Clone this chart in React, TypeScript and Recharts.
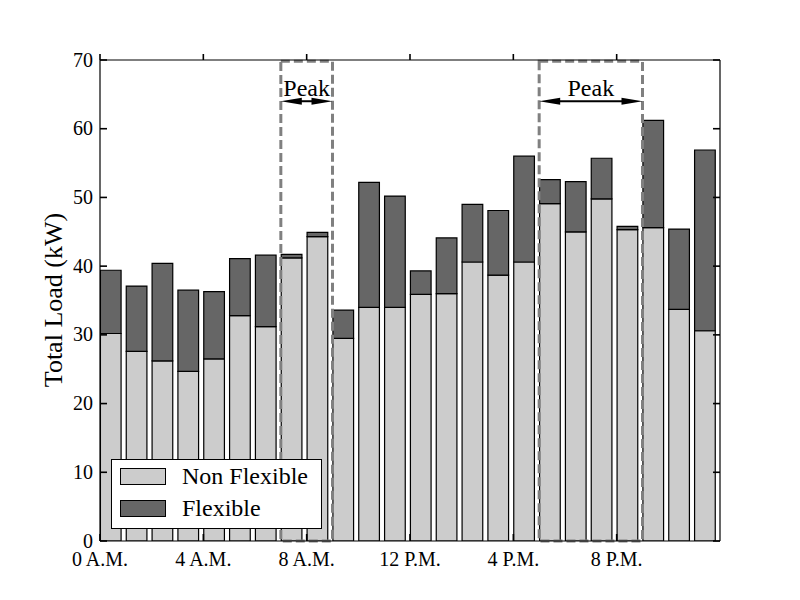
import { Bar, BarChart, Label, Legend, ReferenceArea, ReferenceLine, XAxis, YAxis } from "recharts"

const hours = [0, 1, 2, 3, 4, 5, 6, 7, 8, 9, 10, 11, 12, 13, 14, 15, 16, 17, 18, 19, 20, 21, 22, 23]
const nonFlexible = [30.2, 27.6, 26.2, 24.7, 26.5, 32.8, 31.2, 41.2, 44.3, 29.5, 34.0, 34.0, 35.9, 36.0, 40.6, 38.7, 40.6, 49.1, 45.0, 49.8, 45.3, 45.6, 33.7, 30.6]
const flexible = [9.2, 9.5, 14.2, 11.8, 9.8, 8.3, 10.4, 0.5, 0.6, 4.1, 18.2, 16.2, 3.4, 8.1, 8.4, 9.4, 15.4, 3.5, 7.3, 5.9, 0.5, 15.6, 11.7, 26.3]

const seriesNames = ["Non Flexible", "Flexible"]

const hourTicks = [0, 4, 8, 12, 16, 20]
const hourLabels = ["0 A.M.", "4 A.M.", "8 A.M.", "12 P.M.", "4 P.M.", "8 P.M."]
const loadTicks = [0, 10, 20, 30, 40, 50, 60, 70]

const peakStarts = [7, 17]
const peakEnds = [9, 21]
const peakArrowLevel = 64
const peakLabel = "Peak"

const data = hours.map((hour, i) => ({
  hour,
  nonFlexible: nonFlexible[i],
  flexible: flexible[i],
}))

const font = "'Liberation Serif', 'Times New Roman', serif"
const axisStyle = { stroke: "#000", strokeWidth: 1.2 }

// matplotlib style: ticks drawn inside the frame, labels outside
function BottomTick(props: any) {
  const { x, y, payload } = props
  const label = hourLabels[hourTicks.indexOf(payload.value)]
  return (
    <g>
      <line x1={x} y1={y} x2={x} y2={y - 7} stroke="#000" strokeWidth={1.6} />
      <text x={x} y={y + 25} textAnchor="middle" fontFamily={font} fontSize={20} fill="#000">
        {label}
      </text>
    </g>
  )
}

function TopTick(props: any) {
  const { x, y } = props
  return <line x1={x} y1={y} x2={x} y2={y - 6} stroke="#000" strokeWidth={1.6} />
}

function LeftTick(props: any) {
  const { x, y, payload } = props
  return (
    <g>
      <line x1={x} y1={y} x2={x + 7} y2={y} stroke="#000" strokeWidth={1.6} />
      <text x={x - 7} y={y} dy="0.33em" textAnchor="end" fontFamily={font} fontSize={20} fill="#000">
        {payload.value}
      </text>
    </g>
  )
}

function RightTick(props: any) {
  const { x, y } = props
  return <line x1={x} y1={y} x2={x - 7} y2={y} stroke="#000" strokeWidth={1.6} />
}

function YTitle() {
  return (
    <text
      x={53}
      y={300}
      transform="rotate(-90 53 300)"
      textAnchor="middle"
      dominantBaseline="central"
      fontFamily={font}
      fontSize={26}
      fill="#000"
    >
      Total Load (kW)
    </text>
  )
}

function PeakArrow(props: any) {
  const { x1, y1, x2 } = props
  const head = 21
  const half = 3.5
  return (
    <g>
      <line x1={x1 + head - 2} y1={y1} x2={x2 - head + 2} y2={y1} stroke="#000" strokeWidth={2} />
      <polygon points={`${x1},${y1} ${x1 + head},${y1 - half} ${x1 + head},${y1 + half}`} fill="#000" />
      <polygon points={`${x2},${y1} ${x2 - head},${y1 - half} ${x2 - head},${y1 + half}`} fill="#000" />
      <text x={(x1 + x2) / 2} y={y1 - 5} textAnchor="middle" fontFamily={font} fontSize={24} fill="#000">
        {peakLabel}
      </text>
    </g>
  )
}

function LegendBox(props: any) {
  const items = props.payload || []
  const ordered = seriesNames.map((name) => items.find((item: any) => item.value === name)).filter(Boolean)
  return (
    <div
      style={{
        position: "relative",
        width: 211,
        height: 70,
        boxSizing: "border-box",
        border: "1px solid #000",
        background: "#fff",
        fontFamily: font,
        fontSize: 24,
      }}
    >
      {ordered.map((item: any, i: number) => (
        <div key={item.value}>
          <div
            style={{
              position: "absolute",
              left: 8,
              top: 8 + i * 32,
              width: 44,
              height: 15,
              background: item.color,
              border: "1px solid #000",
            }}
          />
          <span style={{ position: "absolute", left: 70, top: 2 + i * 32, lineHeight: "28px", color: "#000" }}>
            {item.value}
          </span>
        </div>
      ))}
    </div>
  )
}

export default function App() {
  return (
    <div style={{ position: "absolute", left: 0, top: 0, width: 800, height: 600, background: "#fff" }}>
      <BarChart width={800} height={600} data={data} margin={{ top: 59, right: 79, bottom: 58, left: 99 }}>
        {/* bars sit on [h, h+0.8] like matplotlib's edge-aligned bars */}
        <XAxis xAxisId="bars" dataKey="hour" type="number" domain={[-0.4, 23.6]} height={0} allowDataOverflow hide />
        <XAxis
          xAxisId="main"
          dataKey="hour"
          type="number"
          domain={[0, 24]}
          ticks={hourTicks}
          height={1}
          tickSize={0}
          tickMargin={0}
          tickLine={false}
          tick={BottomTick}
          axisLine={axisStyle}
          allowDataOverflow
        />
        <XAxis
          xAxisId="top"
          dataKey="hour"
          orientation="top"
          type="number"
          domain={[0, 24]}
          ticks={hourTicks}
          height={1}
          tickSize={0}
          tickMargin={0}
          tickLine={false}
          tick={TopTick}
          axisLine={axisStyle}
          allowDataOverflow
        />
        <YAxis
          yAxisId="left"
          type="number"
          domain={[0, 70]}
          ticks={loadTicks}
          width={1}
          tickSize={0}
          tickMargin={0}
          tickLine={false}
          tick={LeftTick}
          axisLine={axisStyle}
          allowDataOverflow
        >
          <Label content={YTitle} />
        </YAxis>
        <YAxis
          yAxisId="right"
          orientation="right"
          type="number"
          domain={[0, 70]}
          ticks={loadTicks}
          width={1}
          tickSize={0}
          tickMargin={0}
          tickLine={false}
          tick={RightTick}
          axisLine={axisStyle}
          allowDataOverflow
        />
        <Bar
          xAxisId="bars"
          yAxisId="left"
          dataKey="nonFlexible"
          name={seriesNames[0]}
          stackId="load"
          fill="#cccccc"
          stroke="#000"
          strokeWidth={1.2}
          barSize={20.67}
          isAnimationActive={false}
        />
        <Bar
          xAxisId="bars"
          yAxisId="left"
          dataKey="flexible"
          name={seriesNames[1]}
          stackId="load"
          fill="#666666"
          stroke="#000"
          strokeWidth={1.2}
          barSize={20.67}
          isAnimationActive={false}
        />
        {peakStarts.map((start, i) => (
          <ReferenceArea
            key={`box-${i}`}
            xAxisId="main"
            yAxisId="left"
            x1={start}
            x2={peakEnds[i]}
            y1={0}
            y2={69.8}
            fill="none"
            fillOpacity={0}
            stroke="#808080"
            strokeWidth={3}
            strokeDasharray="9 4"
            zIndex={450}
          />
        ))}
        {peakStarts.map((start, i) => (
          <ReferenceLine
            key={`arrow-${i}`}
            xAxisId="main"
            yAxisId="left"
            segment={[
              { x: start, y: peakArrowLevel },
              { x: peakEnds[i], y: peakArrowLevel },
            ]}
            shape={PeakArrow}
            zIndex={460}
          />
        ))}
        <Legend
          layout="horizontal"
          verticalAlign="middle"
          align="center"
          wrapperStyle={{ left: 111, top: 459, width: 211, height: 70 }}
          content={LegendBox}
        />
      </BarChart>
    </div>
  )
}
